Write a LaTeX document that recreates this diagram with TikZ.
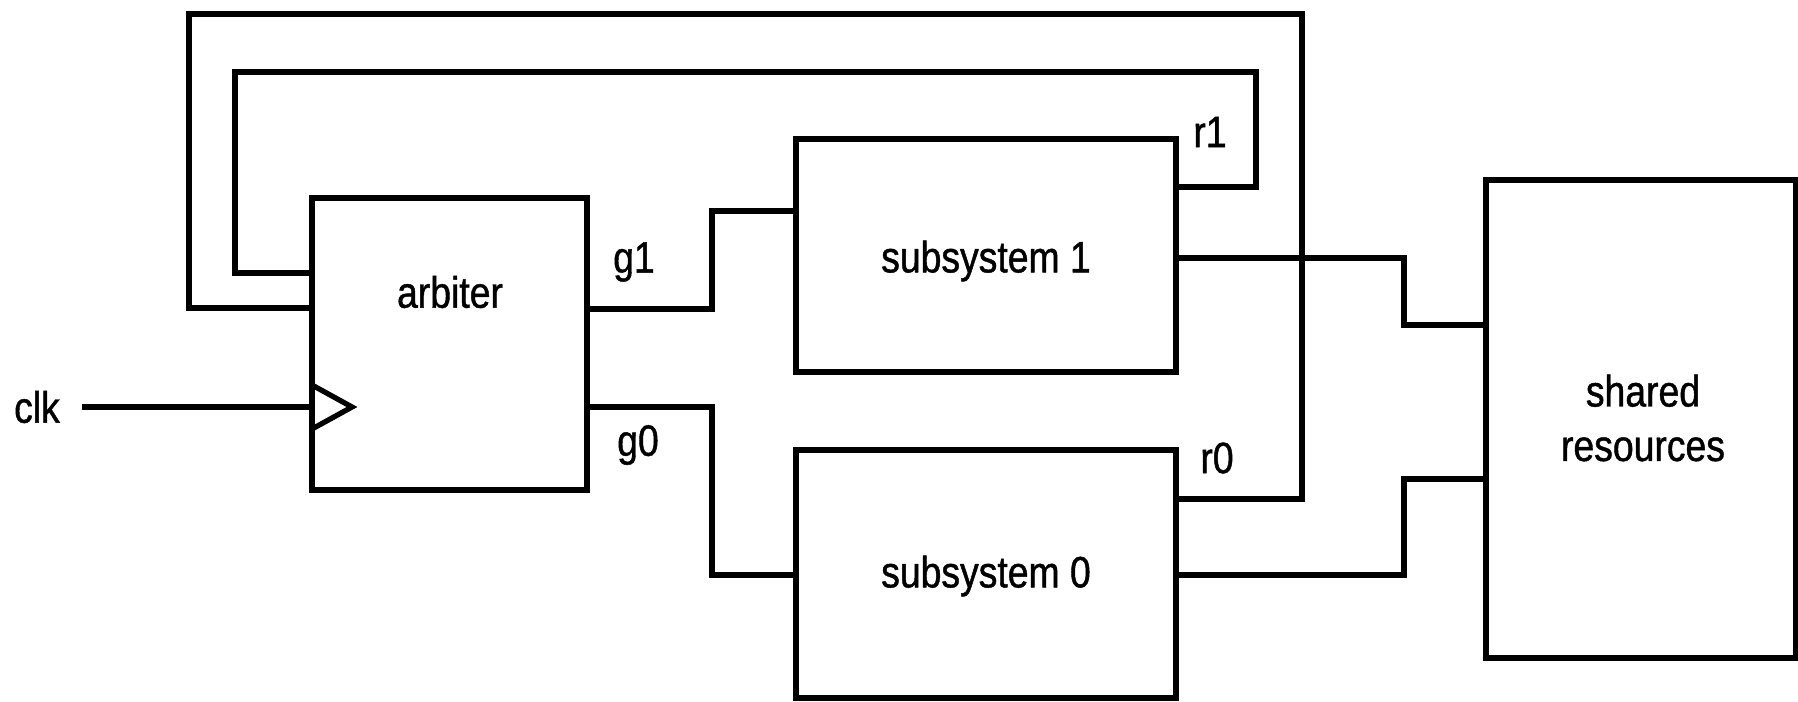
\documentclass[tikz,border=0pt]{standalone}
\usepackage{fontspec}
\setmainfont{Liberation Sans}[FakeStretch=0.85,FakeBold=1]
\begin{document}
\begin{tikzpicture}[x=0.02cm,y=-0.02cm,
  wire/.style={line width=3pt,line join=miter},
  blk/.style={draw,line width=3pt,rectangle,inner sep=0pt,outer sep=0pt},
  lbl/.style={inner sep=0pt,outer sep=0pt,font=\fontsize{25pt}{31pt}\selectfont}]
\useasboundingbox (0,0) rectangle (1798,701);
% blocks
\node[blk,minimum width=5.5cm,minimum height=5.84cm] (arb) at (449.5,344) {};
\node[blk,minimum width=7.6cm,minimum height=4.66cm] (sub1) at (986,255.5) {};
\node[blk,minimum width=7.6cm,minimum height=4.96cm] (sub0) at (986,574) {};
\node[blk,minimum width=6.2cm,minimum height=9.56cm] (shared) at (1641,419) {};
% block texts
\node[lbl] (arbt) at (450,292) {arbiter};
\node[lbl] (sub1t) at (986,261) {subsystem 1};
\node[lbl] (sub0t) at (986,576) {subsystem 0};
\node[lbl,align=center] (sharedt) at (1643,418) {shared\\resources};
% labels
\node[lbl] (clk) at (37,407) {clk};
\node[lbl] (g1) at (634,262) {g1};
\node[lbl] (g0) at (638,445) {g0};
\node[lbl] (r1) at (1210,132) {r1};
\node[lbl] (r0) at (1217,458) {r0};
% clock input
\draw[wire] ([xshift=0.44cm]clk.east) -- (arb.west |- clk.east);
\draw[wire] (arb.west |- 0,385) -- (352,407) -- (arb.west |- 0,429);
% grants
\draw[wire] (arb.east |- 0,309) -| (712,211) -- (sub1.west |- 0,211);
\draw[wire] (arb.east |- 0,407) -| (712,575) -- (sub0.west |- 0,575);
% requests
\draw[wire] (sub1.east |- 0,187) -| (1256,72) -| (235,273) -- (arb.west |- 0,273);
\draw[wire] (sub0.east |- 0,499) -| (1302,14) -| (189,308) -- (arb.west |- 0,308);
% to shared resources
\draw[wire] (sub1.east |- 0,258) -| (1404,325) -- (shared.west |- 0,325);
\draw[wire] (sub0.east |- 0,575) -| (1404,479) -- (shared.west |- 0,479);
\end{tikzpicture}
\end{document}
